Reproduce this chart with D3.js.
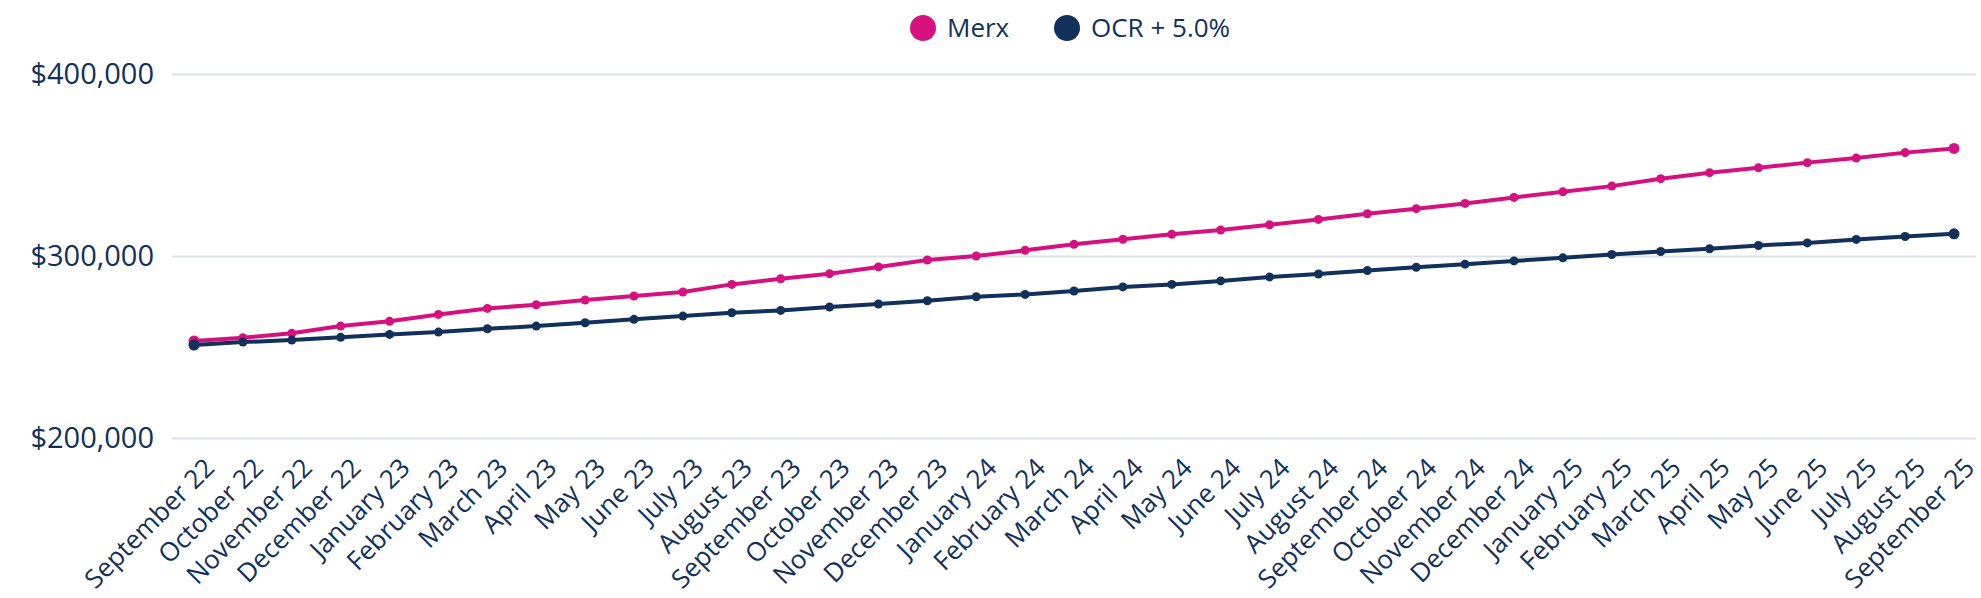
<!DOCTYPE html>
<html>
<head>
<meta charset="utf-8">
<script src="https://cdn.jsdelivr.net/npm/d3@7"></script>
<style>
  html, body { margin: 0; padding: 0; background: #fff; }
  svg text { font-family: "Open Sans", "Noto Sans", sans-serif; fill: #12315a; }
</style>
</head>
<body>
<div id="chart"></div>
<script>
const months = ["September 22","October 22","November 22","December 22","January 23","February 23","March 23","April 23","May 23","June 23","July 23","August 23",
  "September 23","October 23","November 23","December 23","January 24","February 24","March 24","April 24","May 24","June 24","July 24","August 24",
  "September 24","October 24","November 24","December 24","January 25","February 25","March 25","April 25","May 25","June 25","July 25","August 25","September 25"];

const merx = [253300,255100,257500,261500,264100,267900,271200,273200,275800,278000,280200,284400,
  287500,290300,294000,297800,300000,303100,306400,309200,311900,314300,317200,320100,
  323200,326000,328900,332200,335300,338400,342500,345800,348500,351300,353800,356800,359100];

const ocr = [251100,252700,253800,255300,256900,258200,260000,261500,263300,265200,267000,268800,
  270100,272000,273600,275400,277600,278900,280800,283000,284400,286300,288500,290100,
  292000,293800,295500,297300,299000,300800,302500,304000,305800,307200,309100,310700,312200];

const yTicks = [200000, 300000, 400000];

const series = [
  {name: "Merx", values: merx, color: "#d4117f"},
  {name: "OCR + 5.0%", values: ocr, color: "#11305a"}
];

const width = 1981, height = 598;
const plot = {left: 172, right: 1976, top: 74, bottom: 438};

const svg = d3.select("#chart")
  .append("svg")
  .attr("width", width)
  .attr("height", height);

const x = d3.scalePoint()
  .domain(months)
  .range([plot.left, plot.right])
  .padding(0.45);

const y = d3.scaleLinear()
  .domain([200000, 400000])
  .range([plot.bottom, plot.top]);

// gridlines + y labels
const yAxis = svg.append("g")
  .attr("transform", `translate(${plot.left},0)`)
  .call(d3.axisLeft(y)
    .tickValues(yTicks)
    .tickSize(-(plot.right - plot.left))
    .tickPadding(18)
    .tickFormat(d => "$" + d3.format(",")(d)));
yAxis.select(".domain").remove();
yAxis.selectAll(".tick line").attr("stroke", "#dde2e8").attr("stroke-width", 2);
yAxis.selectAll(".tick text").attr("font-size", 29).attr("fill", "#12315a");

// x labels, rotated
const xAxis = svg.append("g")
  .attr("transform", `translate(0,${plot.bottom})`)
  .call(d3.axisBottom(x).tickSize(0).tickPadding(0));
xAxis.select(".domain").remove();
xAxis.selectAll(".tick text")
  .attr("font-size", 26)
  .attr("fill", "#12315a")
  .attr("text-anchor", "end")
  .attr("dy", "0.35em")
  .attr("transform", "translate(15,25) rotate(-45)");

// lines
const line = d3.line()
  .x((d, i) => x(months[i]))
  .y(d => y(d));

series.forEach(s => {
  const g = svg.append("g");
  g.append("path")
    .datum(s.values)
    .attr("fill", "none")
    .attr("stroke", s.color)
    .attr("stroke-width", 4)
    .attr("stroke-linejoin", "round")
    .attr("d", line);
  g.selectAll("circle")
    .data(s.values)
    .enter()
    .append("circle")
    .attr("cx", (d, i) => x(months[i]))
    .attr("cy", d => y(d))
    .attr("r", (d, i) => (i === 0 || i === s.values.length - 1) ? 5.5 : 4.5)
    .attr("fill", s.color);
});

// legend
const legend = svg.append("g").attr("transform", "translate(923,28)");
const legendX = [0, 144];
series.forEach((s, i) => {
  const item = legend.append("g").attr("transform", `translate(${legendX[i]},0)`);
  item.append("circle").attr("r", 13).attr("fill", s.color);
  item.append("text")
    .attr("x", 24)
    .attr("dy", "0.35em")
    .attr("font-size", 26)
    .text(s.name);
});
</script>
</body>
</html>
